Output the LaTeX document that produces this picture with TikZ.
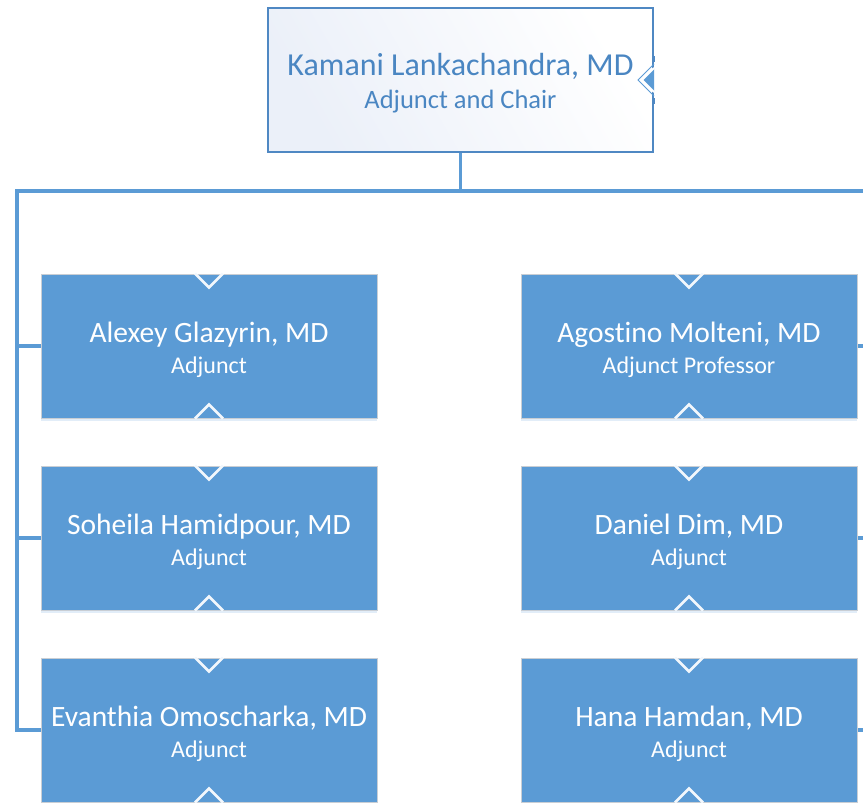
\documentclass[tikz,border=0pt]{standalone}
\usepackage{fontspec}
\setmainfont{Carlito}[Ligatures=NoCommon]
\usetikzlibrary{shadows,backgrounds}
\definecolor{orgblue}{HTML}{5B9BD5}
\definecolor{orgtext}{HTML}{4A86C2}
\definecolor{orgline}{HTML}{4F88C3}
\definecolor{orgedge}{HTML}{C9CED4}
\definecolor{orgpale}{HTML}{E6ECF7}
\newcommand{\subline}[1]{\\{\fontsize{24}{31}\selectfont #1}}
\tikzset{
  staff/.style={draw=orgedge, line width=1pt, fill=orgblue, text=white,
    minimum width=336pt, minimum height=144pt, inner sep=0pt, align=center,
    font=\fontsize{29.5}{31}\selectfont,
    drop shadow={fill=orgblue!70, opacity=.25, shadow xshift=0pt, shadow yshift=-3pt}},
  chair/.style={draw=orgline, line width=2pt, left color=orgpale!80, right color=white,
    shading angle=120,
    text=orgtext, minimum width=385pt, minimum height=144pt, inner sep=0pt, align=center,
    font=\fontsize{32}{33.5}\selectfont},
  link/.style={draw=orgblue, line width=3.5pt},
  % white chevrons on top and bottom of a box
  notch down/.pic={
    \draw[white!92!orgblue, line width=2.5pt] (-14,0) -- (0,14) -- (14,0);
  },
  notch up/.pic={
    \draw[white!92!orgblue, line width=2.5pt] (-14,0) -- (0,-14) -- (14,0);
  },
}

\begin{document}
\begin{tikzpicture}[x=1pt, y=-1pt]
      \useasboundingbox (0,0) rectangle (863,803);
      \pgfmathsetmacro{\colA}{209}
      \pgfmathsetmacro{\colB}{689}

      \node[chair] (chair) at (460.5,80)
        {\rule{0pt}{29pt}Kamani Lankachandra, MD\\{\fontsize{26.5}{33.5}\selectfont Adjunct and Chair}};

      % left column
      \node[staff] (alexey) at (\colA,346) {\rule{0pt}{29pt}Alexey Glazyrin, MD\subline{Adjunct}};
      \node[staff] (soheila) at (\colA,538) {\rule{0pt}{29pt}Soheila Hamidpour, MD\subline{Adjunct}};
      \node[staff] (evanthia) at (\colA,730) {\rule{0pt}{29pt}Evanthia Omoscharka, MD\subline{Adjunct}};

      % right column
      \node[staff] (agostino) at (\colB,346) {\rule{0pt}{29pt}Agostino Molteni, MD\subline{Adjunct Professor}};
      \node[staff] (daniel) at (\colB,538) {\rule{0pt}{29pt}Daniel Dim, MD\subline{Adjunct}};
      \node[staff] (hana) at (\colB,730) {\rule{0pt}{29pt}Hana Hamdan, MD\subline{Adjunct}};

      \foreach \n in {alexey,soheila,evanthia,agostino,daniel,hana}{
        \pic at (\n.north) {notch down};
        \pic at (\n.south) {notch up};
      }

      % collapse marker on the chair box
      \coordinate (m) at (chair.east);
      \draw[orgblue, line width=1pt] (m) ++(0,-16) -- ++(-16,16) -- ++(16,16);
      \draw[fill=orgblue, draw=white, line width=2pt] (m) ++(0,-12) -- ++(-12,12) -- ++(12,12);
      \draw[orgline, line width=2pt] (m) ++(0,-18) -- ++(0,-6);
      \draw[orgline, line width=2pt] (m) ++(0,18) -- ++(0,6);

      \coordinate (busL) at (17,191);
      \coordinate (busR) at (863,191);

      \begin{scope}[on background layer]
        \draw[link] (chair.south) -- (chair.south |- busL);
        \draw[link] ([xshift=-2pt]busL) -- (busR);
        \draw[link] (busL) -- (busL |- evanthia.west) -- (evanthia.west);
        \draw[link] (busL |- alexey.west) -- (alexey.west);
        \draw[link] (busL |- soheila.west) -- (soheila.west);
        \draw[link] (agostino.east) -- (agostino.east -| busR);
        \draw[link] (daniel.east) -- (daniel.east -| busR);
        \draw[link] (hana.east) -- (hana.east -| busR);
      \end{scope}
    \end{tikzpicture}
\end{document}
